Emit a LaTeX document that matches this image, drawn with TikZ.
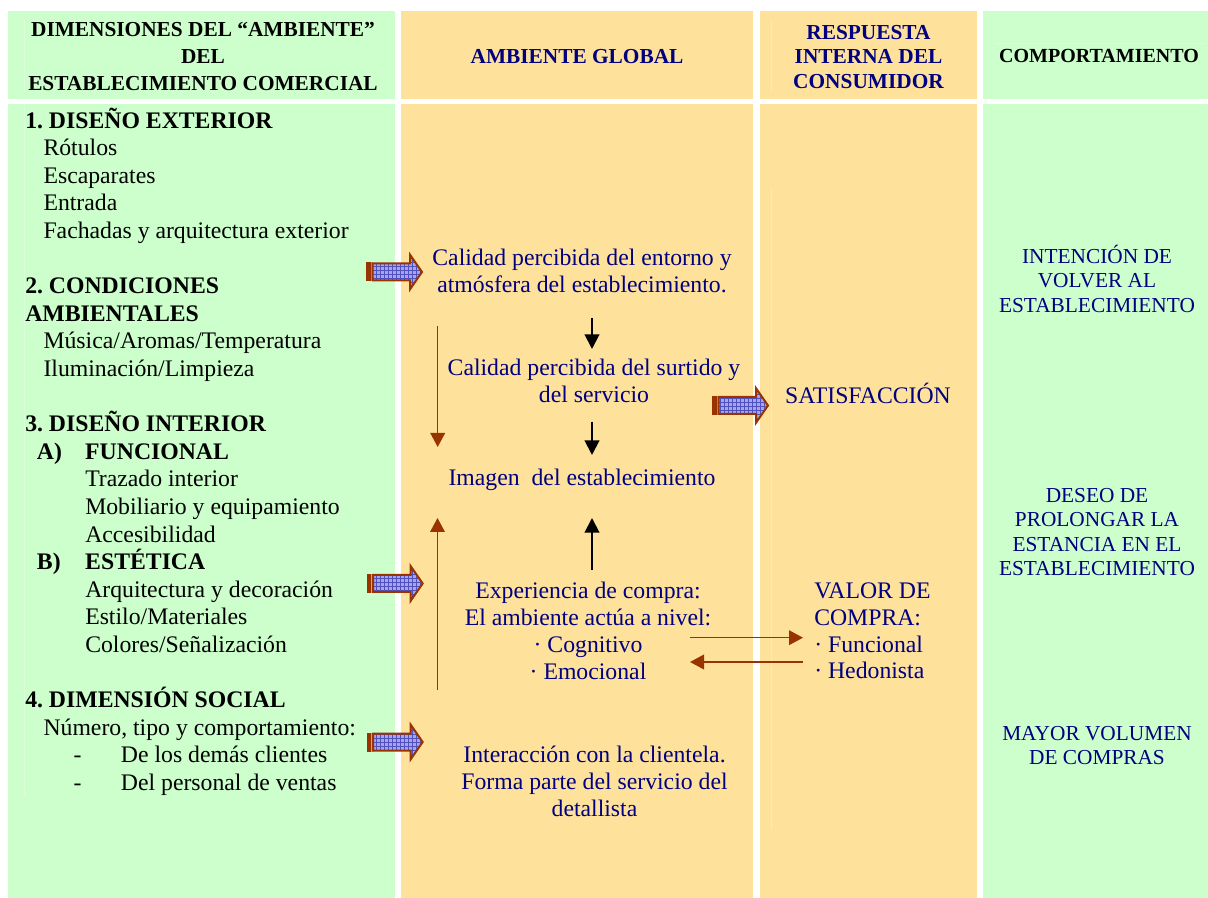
\documentclass[tikz,border=0pt]{standalone}
\usepackage{fontspec}
\setmainfont{Liberation Serif}
\usetikzlibrary{arrows.meta,patterns}

\definecolor{panelgreen}{RGB}{204,255,204}
\definecolor{panelyellow}{RGB}{254,226,155}
\definecolor{navytext}{RGB}{0,0,128}
\definecolor{brn}{RGB}{153,51,0}
\definecolor{arrowblue}{RGB}{165,165,232}
\definecolor{gridblue}{RGB}{80,80,190}

% struts fixing the top of the first line of each text block
\newcommand\bodystrut{\rule{0pt}{16pt}}
\newcommand\sidestrut{\rule{0pt}{14.5pt}}
\newcommand\headstrut{\rule{0pt}{12pt}}
\newcommand\lvlone{\hspace*{13.7pt}}
\newcommand\lvltwo{\hspace*{45pt}}

\begin{document}
\frenchspacing
\begin{tikzpicture}[x=0.75pt,y=-0.75pt,
  colonetext/.style={font=\fontsize{17.8}{20.7}\selectfont, inner sep=0pt, align=left, anchor=north west},
  centertext/.style={font=\fontsize{17.8}{20.25}\selectfont, inner sep=0pt, align=center, anchor=north, text=navytext},
  listtext/.style={font=\fontsize{17.8}{20.1}\selectfont, inner sep=0pt, align=left, anchor=north west, text=navytext},
  sidetext/.style={font=\fontsize{16}{18.4}\selectfont, inner sep=0pt, align=center, anchor=north, text=navytext},
  headtext/.style={font=\bfseries\fontsize{16}{20.5}\selectfont, inner sep=0pt, align=center, anchor=north},
  blkarrow/.style={-{Triangle[length=11pt,width=11pt]}, line width=1.5pt},
  brnarrow/.style={draw=brn, -{Triangle[length=10.5pt,width=11pt]}, line width=1.1pt},
  faint/.style={draw=white, draw opacity=0.3, line width=0.6pt},
  pics/hatcharrow/.style={code={
    \fill[arrowblue] (0,-9.5) rectangle (7,9.5);
    \fill[brn] (0,-9.5) rectangle (4.7,9.5);
    \fill[arrowblue] (6.5,-8.5) -- (44,-8.5) -- (44,-17.3) -- (56,0) -- (44,17.3) -- (44,8.5) -- (6.5,8.5) -- cycle;
    \draw[brn, line width=1.5pt, pattern=grid, pattern color=gridblue]
      (6.5,-8.5) -- (44,-8.5) -- (44,-17.3) -- (56,0) -- (44,17.3) -- (44,8.5) -- (6.5,8.5) -- cycle;
  }}
]
\useasboundingbox (0,0) rectangle (1208,898);
\fill[white] (0,0) rectangle (1208,898);

% column panels
\fill[panelgreen]  (8,11) rectangle (395,99);
\fill[panelgreen]  (8,104) rectangle (395,898);
\fill[panelyellow] (401,11) rectangle (753,99);
\fill[panelyellow] (401,104) rectangle (753,898);
\fill[panelyellow] (760,11) rectangle (977,99);
\fill[panelyellow] (760,104) rectangle (977,898);
\fill[panelgreen]  (983,11) rectangle (1208,99);
\fill[panelgreen]  (983,104) rectangle (1208,898);

% faint text-frame edges
\draw[faint] (24,20) -- (24,92);
\draw[faint] (24,105) -- (24,795);
\draw[faint] (771,20) -- (771,92);
\draw[faint] (771,188) -- (771,830);
\draw[faint] (995,43) -- (1205,43);

% headers
\node[headtext] (hdims) at (203,20) {\headstrut DIMENSIONES DEL “AMBIENTE”\\DEL\\ESTABLECIMIENTO COMERCIAL};
\node[headtext, anchor=base, text=navytext] (hglobal) at (577,63.5) {AMBIENTE GLOBAL};
\node[headtext, text=navytext, font=\bfseries\fontsize{16}{18.4}\selectfont] (hresp) at (868.5,23) {\headstrut RESPUESTA\\INTERNA DEL\\CONSUMIDOR};
\node[headtext, anchor=base, font=\bfseries\fontsize{15}{18}\selectfont] (hcomp) at (1099,62.5) {COMPORTAMIENTO};

% dimensions of the store atmosphere
\node[colonetext] (dims) at (25,106.5) {\bodystrut\textbf{1. DISEÑO EXTERIOR}\\
\lvlone Rótulos\\
\lvlone Escaparates\\
\lvlone Entrada\\
\lvlone Fachadas y arquitectura exterior\\
\mbox{}\\
\textbf{2. CONDICIONES}\\
\textbf{AMBIENTALES}\\
\lvlone Música/Aromas/Temperatura\\
\lvlone Iluminación/Limpieza\\
\mbox{}\\
\textbf{3. DISEÑO INTERIOR}\\
\hspace*{8.8pt}\makebox[36.2pt][l]{\textbf{A)}}\textbf{FUNCIONAL}\\
\lvltwo Trazado interior\\
\lvltwo Mobiliario y equipamiento\\
\lvltwo Accesibilidad\\
\hspace*{8.8pt}\makebox[36.2pt][l]{\textbf{B)}}\textbf{ESTÉTICA}\\
\lvltwo Arquitectura y decoración\\
\lvltwo Estilo/Materiales\\
\lvltwo Colores/Señalización\\
\mbox{}\\
\textbf{4. DIMENSIÓN SOCIAL}\\
\lvlone Número, tipo y comportamiento:\\
\hspace*{36.2pt}\makebox[35.6pt][l]{-}De los demás clientes\\
\hspace*{36.2pt}\makebox[35.6pt][l]{-}Del personal de ventas};

% global atmosphere
\node[centertext] (entorno) at (582,243.7) {\bodystrut Calidad percibida del entorno y\\atmósfera del establecimiento.};
\node[centertext] (surtido) at (594,354) {\bodystrut Calidad percibida del surtido y\\del servicio};
\node[centertext] (imagen) at (582,463.7) {\bodystrut Imagen\ \ del establecimiento};
\node[centertext] (experiencia) at (588,576.7) {\bodystrut Experiencia de compra:\\El ambiente actúa a nivel:\\· Cognitivo\\· Emocional};
\node[centertext] (interaccion) at (594.5,740.7) {\bodystrut Interacción con la clientela.\\Forma parte del servicio del\\detallista};

% internal response
\node[centertext] (satisf) at (868,381.7) {\bodystrut SATISFACCIÓN};
\node[listtext] (valor) at (814,577) {\bodystrut VALOR DE\\COMPRA:\\· Funcional\\· Hedonista};

% behaviour
\node[sidetext] (volver) at (1097,243.7) {\sidestrut INTENCIÓN DE\\VOLVER AL\\ESTABLECIMIENTO};
\node[sidetext] (estancia) at (1097,482.7) {\sidestrut DESEO DE\\PROLONGAR LA\\ESTANCIA EN EL\\ESTABLECIMIENTO};
\node[sidetext] (volumen) at (1097,720.7) {\sidestrut MAYOR VOLUMEN\\DE COMPRAS};

% block arrows
\pic at (366,272) {hatcharrow};
\pic at (366.7,583.5) {hatcharrow};
\pic at (366.7,742) {hatcharrow};
\pic at (712,405.5) {hatcharrow};

% connector end points
\coordinate (entB) at (592,318);
\coordinate (surT) at (592,349);
\coordinate (surB) at (592,421.7);
\coordinate (imgT) at (592,455);
\coordinate (expT) at (592,570);
\coordinate (imgB) at (592,518);
\coordinate (sideTop) at (437.7,326);
\coordinate (sideMid) at (437.7,447);
\coordinate (sideLow) at (437.5,690);
\coordinate (sideUp) at (437.5,518);
\coordinate (cogR) at (690,637.7);
\coordinate (valL) at (803,637.7);
\coordinate (hedL) at (803,662);
\coordinate (emoR) at (690,662);

% connectors
\draw[blkarrow] (entB) -- (surT);
\draw[blkarrow] (surB) -- (imgT);
\draw[blkarrow] (expT) -- (imgB);
\draw[brnarrow] (sideTop) -- (sideMid);
\draw[brnarrow] (sideLow) -- (sideUp);
\draw[brnarrow] (cogR) -- (valL);
\draw[brnarrow] (hedL) -- (emoR);
\end{tikzpicture}
\end{document}
